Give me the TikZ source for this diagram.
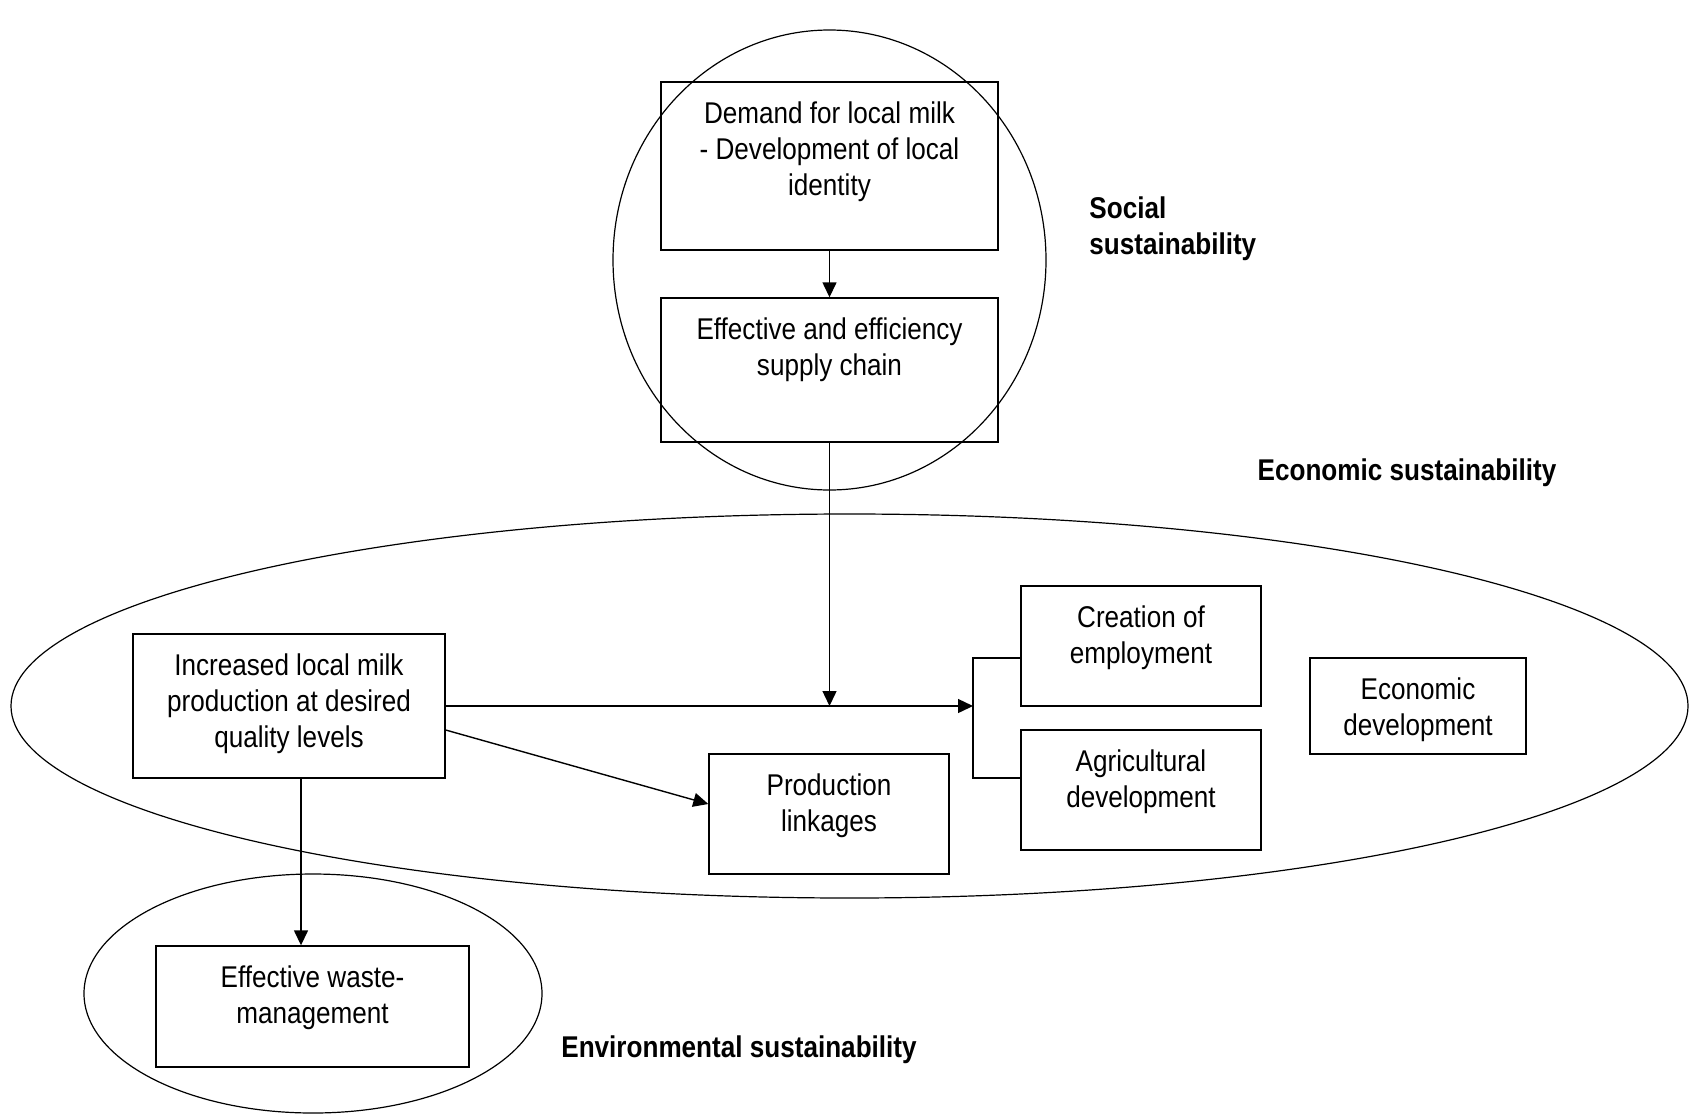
\documentclass[tikz,border=0pt]{standalone}
\usepackage{fontspec}
\setmainfont{Liberation Sans}[FakeStretch=0.87]
\usetikzlibrary{arrows.meta,shapes.geometric,positioning}
\begin{document}
\begin{tikzpicture}[x=0.5pt,y=-0.5pt,
  every node/.style={font=\fontsize{15}{18}\selectfont},
  box/.style={draw,line width=0.7pt,rectangle,inner sep=0pt},
  txt/.style={align=center,anchor=north,inner sep=0pt},
  ell/.style={draw,line width=0.6pt,ellipse,inner sep=0pt},
  lab/.style={font=\fontsize{15}{18}\selectfont\bfseries,inner sep=0pt},
  arr/.style={line width=0.7pt,-{Triangle[length=7.5pt,width=7pt]}},
  ln/.style={line width=0.7pt}]
\fill[white] (0,0) rectangle (1690,1114);
% ellipses
\node[ell,minimum width=216.5pt,minimum height=230pt] (socialell) at (829.5,260) {};
\node[ell,minimum width=838.5pt,minimum height=192pt] (econell) at (849.5,706) {};
\node[ell,minimum width=229pt,minimum height=119.5pt] (envell) at (313,993.5) {};
% boxes
\node[box,minimum width=168.5pt,minimum height=84pt] (demand) at (829.5,166) {};
\node[box,minimum width=168.5pt,minimum height=72pt] (supply) at (829.5,370) {};
\node[box,minimum width=156pt,minimum height=72pt] (increased) at (289,706) {};
\node[box,minimum width=120pt,minimum height=60pt] (production) at (829,814) {};
\node[box,minimum width=120pt,minimum height=60pt] (creation) at (1141,646) {};
\node[box,minimum width=120pt,minimum height=60pt] (agri) at (1141,790) {};
\node[box,minimum width=108pt,minimum height=48pt] (econdev) at (1418,706) {};
\node[box,minimum width=156.5pt,minimum height=60.5pt] (waste) at (312.5,1006.5) {};
% texts
\node[txt,below=10pt of demand.north] (demandtxt) {Demand for local milk\\- Development of local\\identity};
\node[txt,below=10pt of supply.north] (supplytxt) {Effective and efficiency\\supply chain};
\node[txt,below=10pt of increased.north] (increasedtxt) {Increased local milk\\production at desired\\quality levels};
\node[txt,below=10pt of production.north] (productiontxt) {Production\\linkages};
\node[txt,below=10pt of creation.north] (creationtxt) {Creation of\\employment};
\node[txt,below=10pt of agri.north] (agritxt) {Agricultural\\development};
\node[txt,below=10pt of econdev.north] (econdevtxt) {Economic\\development};
\node[txt,below=10pt of waste.north] (wastetxt) {Effective waste-\\management};
% labels
\node[lab,align=left,anchor=north west] (sociallab) at (1089,196) {Social\\sustainability};
\node[lab] (econlab) at (1407,473) {Economic sustainability};
\node[lab] (envlab) at (739,1050) {Environmental sustainability};
% connectors
\coordinate (b1) at (973,658);
\coordinate (b2) at (973,778);
\coordinate (junc) at (supply.south |- increased.east);
\draw[arr] (demand.south) -- (supply.north);
\draw[arr] (supply.south) -- (junc);
\draw[arr] (increased.east) -- (b1 |- increased.east);
\draw[ln] ([yshift=-6pt]creation.west) -- (b1) -- (b2) -- ([yshift=6pt]agri.west);
\draw[arr] ([yshift=-12pt]increased.east) -- ([yshift=5pt]production.west);
\draw[arr] ([xshift=6pt]increased.south) -- ([xshift=6pt]increased.south |- waste.north);
\end{tikzpicture}
\end{document}
